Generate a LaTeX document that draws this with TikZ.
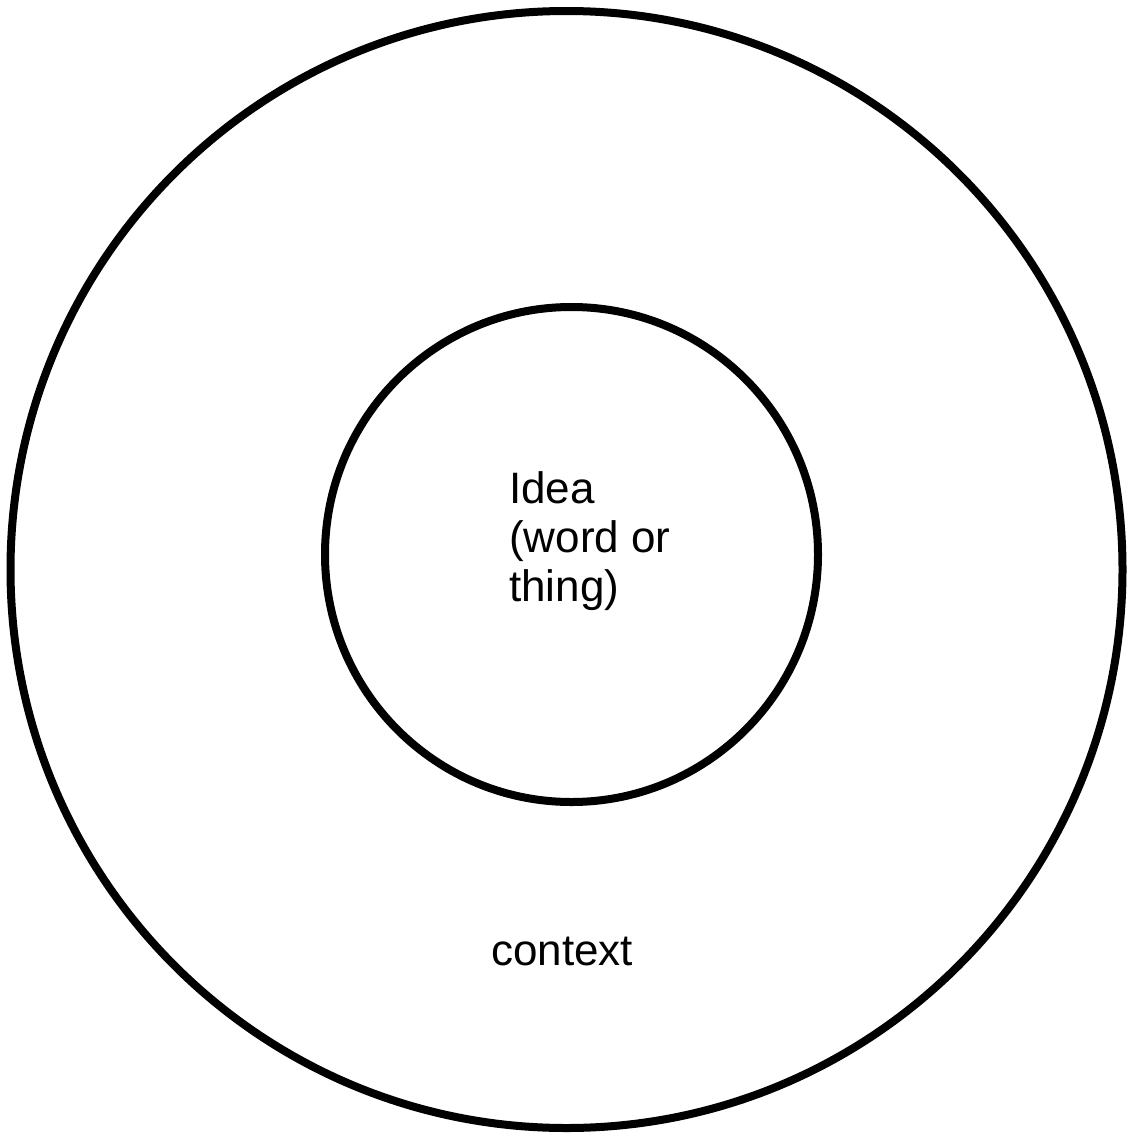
\documentclass[tikz,border=0pt]{standalone}
\usepackage{fontspec}
\setmainfont{Liberation Sans}
\begin{document}
\begin{tikzpicture}[x=1pt,y=-1pt,
  ring/.style={draw=black,line width=8pt},
  label/.style={font=\fontsize{44}{49}\selectfont,inner sep=0pt,align=left}]
\useasboundingbox (0,0) rectangle (1129,1135);
\fill[white] (0,0) rectangle (1129,1135);
\draw[ring] (566.5,569.5) ellipse [x radius=556, y radius=558.5];
\draw[ring] (571.5,554.5) ellipse [x radius=246.5, y radius=247.5];
\node[label,anchor=base west] (idea) at (509,601) {Idea\\(word or\\thing)};
\node[label,anchor=base west] (context) at (491,965.5) {context};
\end{tikzpicture}
\end{document}
